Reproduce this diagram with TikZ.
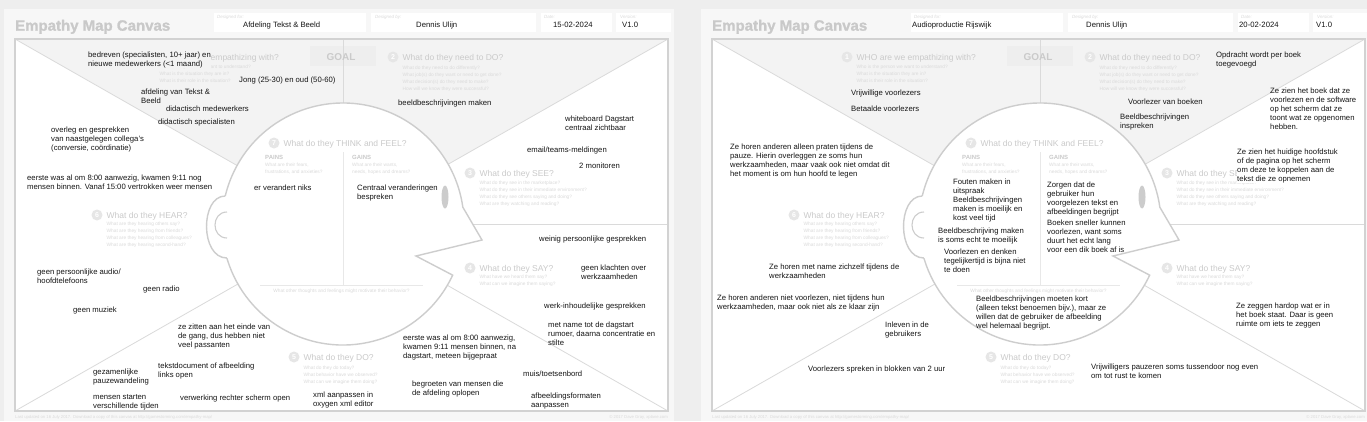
\documentclass[tikz,border=0pt]{standalone}
\usepackage{fontspec}
\setmainfont{Liberation Sans}
\definecolor{pagebg}{HTML}{EEEEEE}
\definecolor{panelbg}{HTML}{F7F7F7}
\definecolor{topgrey}{HTML}{F3F3F3}
\definecolor{goalgrey}{HTML}{EEEEEE}
\definecolor{linegrey}{HTML}{DADADA}
\definecolor{framegrey}{HTML}{D2D2D2}
\definecolor{headgrey}{HTML}{CDCDCD}
\definecolor{innergrey}{HTML}{E8E8E8}
\definecolor{eyegrey}{HTML}{CCCCCC}
\definecolor{hintgrey}{HTML}{CACACA}
\definecolor{subgrey}{HTML}{DADADA}
\definecolor{numgrey}{HTML}{E6E6E6}
\definecolor{titlegrey}{HTML}{C9C9C9}
\definecolor{notetext}{HTML}{151515}

\begin{document}
\begin{tikzpicture}[x=1pt,y=-1pt,
  note/.style={anchor=north west,inner sep=0pt,align=left,
    font=\fontsize{7.7}{9}\selectfont,text=notetext},
  hint/.style={anchor=base west,inner sep=0pt,
    font=\fontsize{8.5}{10}\selectfont,text=hintgrey},
  sub/.style={anchor=north west,inner sep=0pt,align=left,
    font=\fontsize{4.8}{6.8}\selectfont,text=subgrey},
  num/.style={circle,fill=numgrey,text=white,inner sep=0pt,minimum size=11pt,
    font=\fontsize{7}{7}\selectfont\bfseries},
  footer/.style={inner sep=0pt,font=\fontsize{4.2}{5}\selectfont,text=subgrey},
  field/.style={anchor=base west,inner sep=0pt,
    font=\fontsize{7.7}{9}\selectfont,text=notetext},
  fieldlabel/.style={anchor=base west,inner sep=0pt,
    font=\fontsize{4.5}{5}\selectfont\itshape,text=subgrey},
  tline/.style={draw=linegrey,line width=0.8pt},
  headline/.style={draw=headgrey,line width=1.4pt}]

  \fill[pagebg] (0,0) rectangle (1367,421);
  \useasboundingbox (0,0) rectangle (1367,421);

  \foreach \ox in {0,697} {
  \begin{scope}[xshift=\ox pt]
    \fill[panelbg] (4,9) rectangle (674,421);
    \foreach \a/\b in {214/366,371/536,541/612,616/671}
      \fill[white] (\a,13) rectangle (\b,32);
    \fill[white] (15,39) rectangle (668,411);
    \fill[topgrey] (15,39) -- (668,39) -- (341.5,225) -- cycle;
    \fill[goalgrey] (310,46) rectangle (376,66);
    \draw[tline] (15,39) -- (341.5,225) -- (668,39);
    \draw[tline] (15,411) -- (341.5,225) -- (668,411);
    \draw[tline] (343,39) -- (343,120);
    \draw[tline] (420,224) -- (668,224);
    \draw[headline,fill=white] (452.66,275.14)
      arc[start angle=-25,end angle=-352,radius=121pt]
      -- (482,240) -- (416,256) -- cycle;
    \fill[white] (225.3,196) .. controls (200,196) and (200,258) .. (226.9,258)
      -- (236,258) -- (236,196) -- cycle;
    \draw[headline] (225.3,196) .. controls (200,196) and (200,258) .. (226.9,258);
    \draw[headline,line width=1.1pt] (227,212) .. controls (211,212) and (211,238) .. (227,238);
    \fill[eyegrey] (445,197) ellipse [x radius=3.5pt,y radius=11.5pt];
    \draw[tline,draw=innergrey] (343,152) -- (343,285);
    \draw[tline,draw=innergrey] (260,285) -- (423,285);
    \draw[draw=framegrey,line width=1.3pt] (15,39) rectangle (668,411);

    \node[anchor=base west,inner sep=0pt,
      font=\fontsize{15}{16}\selectfont\bfseries\addfontfeatures{FakeBold=1.2},
      text=titlegrey] (title\ox) at (15,30.7) {Empathy Map Canvas};
    \node[fieldlabel] (forlab\ox) at (217,18) {Designed for:};
    \node[fieldlabel] (bylab\ox) at (375,18) {Designed by:};
    \node[fieldlabel] (datelab\ox) at (544,18) {Date:};
    \node[fieldlabel] (verlab\ox) at (620,18) {Version:};

    \node[font=\fontsize{10}{11}\selectfont\bfseries,text=hintgrey,inner sep=0pt]
      (goal\ox) at (341,57) {GOAL};
    \node[num] (n1\ox) at (150,57) {1};
    \node[hint] (who\ox) at (159.5,60) {WHO are we empathizing with?};
    \node[sub] (whoq\ox) at (159.5,65.2) {Who is the person we want to understand?\\What is the situation they are in?\\What is their role in the situation?};
    \node[num] (n2\ox) at (393,57) {2};
    \node[hint] (do\ox) at (402.5,60) {What do they need to DO?};
    \node[sub] (doq\ox) at (402.5,66.2) {What do they need to do differently?\\What job(s) do they want or need to get done?\\What decision(s) do they need to make?\\How will we know they were successful?};
    \node[num] (n3\ox) at (470,173) {3};
    \node[hint] (see\ox) at (479.5,176) {What do they SEE?};
    \node[sub] (seeq\ox) at (479.5,181.2) {What do they see in the marketplace?\\What do they see in their immediate environment?\\What do they see others saying and doing?\\What are they watching and reading?};
    \node[num] (n4\ox) at (470,268) {4};
    \node[hint] (say\ox) at (479.5,271) {What do they SAY?};
    \node[sub] (sayq\ox) at (479.5,275.2) {What have we heard them say?\\What can we imagine them saying?};
    \node[num] (n5\ox) at (294,357) {5};
    \node[hint] (act\ox) at (303.5,360) {What do they DO?};
    \node[sub] (actq\ox) at (303.5,366.2) {What do they do today?\\What behavior have we observed?\\What can we imagine them doing?};
    \node[num] (n6\ox) at (97,215) {6};
    \node[hint] (hear\ox) at (106.5,218) {What do they HEAR?};
    \node[sub] (hearq\ox) at (106.5,222.2) {What are they hearing others say?\\What are they hearing from friends?\\What are they hearing from colleagues?\\What are they hearing second-hand?};
    \node[num] (n7\ox) at (274,143) {7};
    \node[hint] (think\ox) at (283.5,146) {What do they THINK and FEEL?};
    \node[anchor=base west,inner sep=0pt,font=\fontsize{6}{7}\selectfont\bfseries,
      text=hintgrey] (pains\ox) at (265,159) {PAINS};
    \node[sub] (painsq\ox) at (265,163.2) {What are their fears,\\frustrations, and anxieties?};
    \node[anchor=base west,inner sep=0pt,font=\fontsize{6}{7}\selectfont\bfseries,
      text=hintgrey] (gains\ox) at (352,159) {GAINS};
    \node[sub] (gainsq\ox) at (352,163.2) {What are their wants,\\needs, hopes and dreams?};
    \node[sub,anchor=center] (other\ox) at (341.5,291) {What other thoughts and feelings might motivate their behavior?};

    \node[footer,anchor=base west] (upd\ox) at (15,418.5) {Last updated on 16 July 2017. Download a copy of this canvas at http://gamestorming.com/empathy-map/};
    \node[footer,anchor=base east] (copy\ox) at (668,418.5) {\textcopyright{} 2017 Dave Gray, xplane.com};
  \end{scope}
  }

  \node[field] (forA) at (243,27.5) {Afdeling Tekst \& Beeld};
  \node[field] (byA) at (416,27.5) {Dennis Ulijn};
  \node[field] (dateA) at (553,27.5) {15-02-2024};
  \node[field] (verA) at (622,27.5) {V1.0};

  \node[note,fill=topgrey] (whoA1) at (88,51.7) {bedreven (specialisten, 10+ jaar) en\\nieuwe medewerkers (<1 maand)};
  \node[note,fill=topgrey] (whoA2) at (239,76.7) {Jong (25-30) en oud (50-60)};
  \node[note] (whoA3) at (141,88.7) {afdeling van Tekst \&\\Beeld};
  \node[note] (whoA4) at (166,105.7) {didactisch medewerkers};
  \node[note] (whoA5) at (158,118.7) {didactisch specialisten};
  \node[note] (hearA1) at (51,126.7) {overleg en gesprekken\\van naastgelegen collega's\\(conversie, coördinatie)};
  \node[note] (hearA2) at (27,174.7) {eerste was al om 8:00 aanwezig, kwamen 9:11 nog\\mensen binnen. Vanaf 15:00 vertrokken weer mensen};
  \node[note] (painA1) at (254,184.7) {er verandert niks};
  \node[note] (doA1) at (398,99.7) {beeldbeschrijvingen maken};
  \node[note] (seeA1) at (565,115.7) {whiteboard Dagstart\\centraal zichtbaar};
  \node[note] (seeA2) at (527,146.7) {email/teams-meldingen};
  \node[note] (seeA3) at (579,162.7) {2 monitoren};
  \node[note] (gainA1) at (357,184.7) {Centraal veranderingen\\bespreken};
  \node[note] (hearA3) at (37,268.7) {geen persoonlijke audio/\\hoofdtelefoons};
  \node[note] (hearA4) at (143,285.7) {geen radio};
  \node[note] (hearA5) at (73,306.7) {geen muziek};
  \node[note] (actA1) at (178,323.7) {ze zitten aan het einde van\\de gang, dus hebben niet\\veel passanten};
  \node[note] (actA2) at (93,368.7) {gezamenlijke\\pauzewandeling};
  \node[note] (actA3) at (158,362.7) {tekstdocument of afbeelding\\links open};
  \node[note] (actA4) at (93,394.7) {mensen starten\\verschillende tijden};
  \node[note] (actA5) at (180,394.7) {verwerking rechter scherm open};
  \node[note] (actA6) at (313,391.7) {xml aanpassen in\\oxygen xml editor};
  \node[note] (sayA1) at (539,235.7) {weinig persoonlijke gesprekken};
  \node[note] (sayA2) at (581,264.7) {geen klachten over\\werkzaamheden};
  \node[note] (sayA3) at (544,302.7) {werk-inhoudelijke gesprekken};
  \node[note] (sayA4) at (548,321.7) {met name tot de dagstart\\rumoer, daarna concentratie en\\stilte};
  \node[note] (actA7) at (403,334.7) {eerste was al om 8:00 aanwezig,\\kwamen 9:11 mensen binnen, na\\dagstart, meteen bijgepraat};
  \node[note] (actA8) at (523,370.7) {muis/toetsenbord};
  \node[note] (actA9) at (412,380.7) {begroeten van mensen die\\de afdeling oplopen};
  \node[note] (actA10) at (531,392.7) {afbeeldingsformaten\\aanpassen};

  \node[field] (forB) at (912,27.5) {Audioproductie Rijswijk};
  \node[field] (byB) at (1086,27.5) {Dennis Ulijn};
  \node[field] (dateB) at (1239,27.5) {20-02-2024};
  \node[field] (verB) at (1316,27.5) {V1.0};

  \node[note] (whoB1) at (851,89.7) {Vrijwillige voorlezers};
  \node[note] (whoB2) at (851,105.7) {Betaalde voorlezers};
  \node[note] (hearB1) at (730,143.7) {Ze horen anderen alleen praten tijdens de\\pauze. Hierin overleggen ze soms hun\\werkzaamheden, maar vaak ook niet omdat dit\\het moment is om hun hoofd te legen};
  \node[note] (painB1) at (953,178.7) {Fouten maken in\\uitspraak};
  \node[note] (painB2) at (953,196.7) {Beeldbeschrijvingen\\maken is moeilijk en\\kost veel tijd};
  \node[note] (painB3) at (938,227.7) {Beeldbeschrijving maken\\is soms echt te moeilijk};
  \node[note] (painB4) at (944,248.7) {Voorlezen en denken\\tegelijkertijd is bijna niet\\te doen};
  \node[note] (gainB1) at (1047,181.7) {Zorgen dat de\\gebruiker hun\\voorgelezen tekst en\\afbeeldingen begrijpt};
  \node[note] (gainB2) at (1047,219.7) {Boeken sneller kunnen\\voorlezen, want soms\\duurt het echt lang\\voor een dik boek af is};
  \node[note] (otherB1) at (976,295.7) {Beeldbeschrijvingen moeten kort\\(alleen tekst benoemen bijv.), maar ze\\willen dat de gebruiker de afbeelding\\wel helemaal begrijpt.};
  \node[note] (doB1) at (1216,51.7) {Opdracht wordt per boek\\toegevoegd};
  \node[note] (doB2) at (1128,98.7) {Voorlezer van boeken};
  \node[note] (doB3) at (1120,113.7) {Beeldbeschrijvingen\\inspreken};
  \node[note] (seeB1) at (1270,87.7) {Ze zien het boek dat ze\\voorlezen en de software\\op het scherm dat ze\\toont wat ze opgenomen\\hebben.};
  \node[note,fill=white] (seeB2) at (1237,148.7) {Ze zien het huidige hoofdstuk\\of de pagina op het scherm\\om deze te koppelen aan de\\tekst die ze opnemen};
  \node[note] (hearB2) at (769,263.7) {Ze horen met name zichzelf tijdens de\\werkzaamheden};
  \node[note] (hearB3) at (717,294.7) {Ze horen anderen niet voorlezen, niet tijdens hun\\werkzaamheden, maar ook niet als ze klaar zijn};
  \node[note] (actB1) at (885,321.7) {Inleven in de\\gebruikers};
  \node[note] (actB2) at (808,365.7) {Voorlezers spreken in blokken van 2 uur};
  \node[note] (sayB1) at (1236,302.7) {Ze zeggen hardop wat er in\\het boek staat. Daar is geen\\ruimte om iets te zeggen};
  \node[note] (actB3) at (1091,363.7) {Vrijwilligers pauzeren soms tussendoor nog even\\om tot rust te komen};
\end{tikzpicture}
\end{document}
